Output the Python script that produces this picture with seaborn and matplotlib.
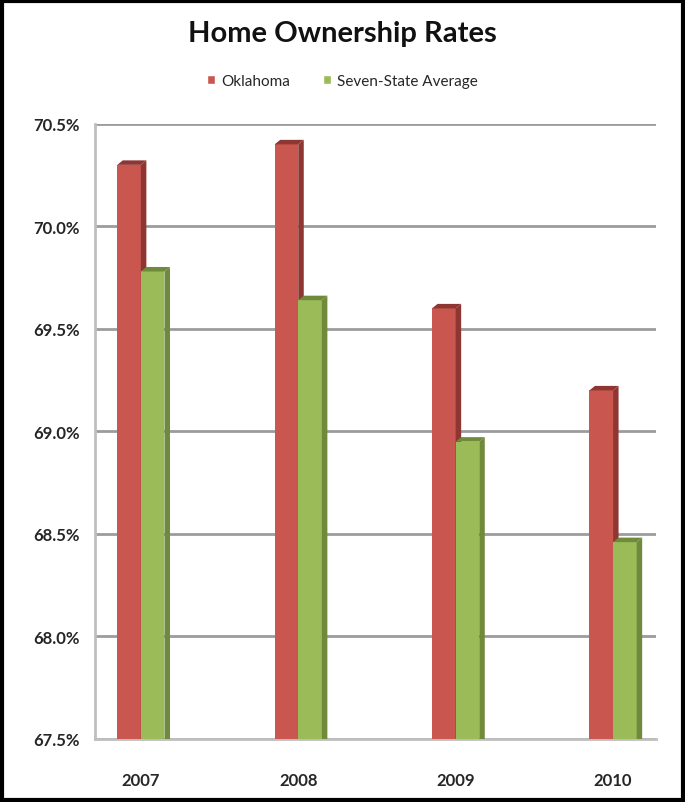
import numpy as np
import pandas as pd
import matplotlib
matplotlib.use("Agg")
import matplotlib.pyplot as plt
from matplotlib.patches import Polygon, Rectangle, Patch
import seaborn as sns

# chart data
years = ["2007", "2008", "2009", "2010"]
oklahoma = [70.3, 70.4, 69.6, 69.2]
seven_state = [69.78, 69.64, 68.95, 68.46]
series_names = ["Oklahoma", "Seven-State Average"]
y_ticks = [67.5, 68.0, 68.5, 69.0, 69.5, 70.0, 70.5]

df = pd.DataFrame({
    "Year": years * 2,
    "Rate": oklahoma + seven_state,
    "Series": [series_names[0]] * 4 + [series_names[1]] * 4,
})

red = "#C9564F"
green = "#9BBB59"
red_dark = "#8E3632"
green_dark = "#6E8A3A"

sns.set_style("white")
plt.rcParams["font.family"] = ["Lato", "DejaVu Sans"]

fig = plt.figure(figsize=(6.85, 8.03), dpi=100)
ax = fig.add_axes([0.139, 0.0785, 0.818, 0.766])

sns.barplot(data=df, x="Year", y="Rate", hue="Series", palette=[red, green],
            width=0.3, gap=0, saturation=1, legend=False, ax=ax, zorder=3,
            edgecolor="none", linewidth=0)

ax.set_ylim(67.5, 70.5)
ax.set_xlim(-0.29, 3.27)
ax.set_yticks(y_ticks)
ax.set_yticklabels([f"{t:.1f}%" for t in y_ticks])

# fake 3D side and top faces, built from each bar's geometry
dx, dy = 0.035, 0.022
for i, bar in enumerate(ax.patches):
    x0, w, h = bar.get_x(), bar.get_width(), bar.get_height()
    x1 = x0 + w
    top = h
    base = 67.0
    is_red = i < len(years)
    dark = red_dark if is_red else green_dark
    z = 3.1 if is_red else 3.3
    bar.set_zorder(3.0 if is_red else 3.2)
    side = Polygon([(x1, base), (x1 + dx, base + dy), (x1 + dx, top + dy), (x1, top)],
                   closed=True, facecolor=dark, edgecolor="none", zorder=z)
    cap = Polygon([(x0, top), (x0 + dx, top + dy), (x1 + dx, top + dy), (x1, top)],
                  closed=True, facecolor=dark, edgecolor="none", zorder=z)
    ax.add_patch(side)
    ax.add_patch(cap)

ax.yaxis.grid(True, color="#9C9C9C", linewidth=2)
ax.set_axisbelow(True)
for s in ["top", "right"]:
    ax.spines[s].set_visible(False)
ax.spines["left"].set_color("#BFBFBF")
ax.spines["left"].set_linewidth(2)
ax.spines["bottom"].set_color("#BFBFBF")
ax.spines["bottom"].set_linewidth(2)
ax.tick_params(axis="y", length=5, color="#BFBFBF", width=2, labelsize=12,
               labelcolor="#262626", pad=6)
ax.tick_params(axis="x", length=0, labelsize=12, labelcolor="#262626", pad=24)
for lab in ax.get_xticklabels() + ax.get_yticklabels():
    lab.set_fontweight("bold")
ax.set_xlabel("")
ax.set_ylabel("")

fig.text(0.5, 0.958, "Home Ownership Rates", ha="center", va="center",
         fontsize=21, color="#111111", fontweight="bold")

handles = [Patch(facecolor=red), Patch(facecolor=green)]
fig.legend(handles, series_names, loc="center", bbox_to_anchor=(0.5, 0.898),
           ncol=2, frameon=False, fontsize=11, handlelength=0.5, handleheight=0.5,
           handletextpad=0.4, columnspacing=2.2)

# outer black frame
fig.patches.append(Rectangle((0.003, 0.003), 0.994, 0.994, transform=fig.transFigure,
                             fill=False, edgecolor="black", linewidth=3))

fig.savefig("out.png", dpi=100)
